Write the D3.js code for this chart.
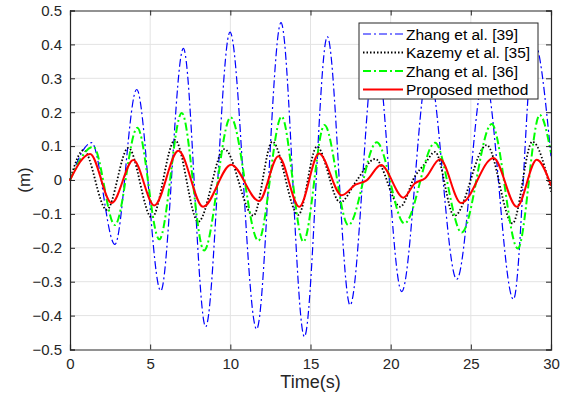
<!DOCTYPE html>
<html>
<head>
<meta charset="utf-8">
<script src="https://cdn.jsdelivr.net/npm/d3@7"></script>
<style>
  body { margin: 0; background: #fff; }
  svg { font-family: "Liberation Sans", Arial, sans-serif; }
</style>
</head>
<body>
<div id="chart"></div>
<script>
// values (time in s, displacement in m)
const zhang39T = [0, 1.35, 2.8, 4.16, 5.66, 7.07, 8.46, 9.98, 11.64, 13.16, 14.62, 16.05, 17.47, 19.05, 20.69, 22.35, 24.12, 25.85, 27.66, 28.95, 30];
const zhang39V = [0, 0.11, -0.19, 0.267, -0.327, 0.388, -0.433, 0.436, -0.44, 0.464, -0.462, 0.423, -0.369, 0.39, -0.329, 0.33, -0.293, 0.31, -0.352, 0.408, 0.07];

const kazemyT = [0, 0.85, 2.29, 3.64, 5.1, 6.55, 8.0, 9.63, 11.44, 12.62, 14.24, 15.4, 16.85, 17.9, 19.03, 20.6, 21.5, 22.15, 22.77, 23.97, 25.99, 27.6, 28.84, 30];
const kazemyV = [0, 0.088, -0.088, 0.095, -0.111, 0.118, -0.123, 0.091, -0.105, 0.113, -0.103, 0.098, -0.066, 0.0, 0.062, -0.079, 0.01, 0.049, 0.083, -0.106, 0.103, -0.128, 0.113, -0.034];

const zhang36T = [0, 1.46, 2.8, 4.2, 5.57, 6.97, 8.36, 10.02, 11.75, 13.2, 14.56, 15.87, 17.36, 19.13, 20.86, 22.77, 24.43, 26.3, 27.93, 29.3, 30];
const zhang36V = [0, 0.098, -0.133, 0.154, -0.175, 0.198, -0.208, 0.185, -0.179, 0.187, -0.182, 0.162, -0.133, 0.111, -0.128, 0.11, -0.155, 0.165, -0.202, 0.192, 0.08];

const proposedT = [0, 1.25, 2.6, 3.95, 5.26, 6.76, 8.3, 10.05, 11.79, 13.0, 14.3, 15.53, 16.95, 17.8, 18.5, 19.4, 20.8, 21.5, 22.15, 23.08, 24.39, 26.41, 27.87, 29.11, 30];
const proposedV = [0, 0.077, -0.068, 0.059, -0.075, 0.086, -0.079, 0.045, -0.062, 0.07, -0.079, 0.078, -0.045, -0.014, -0.001, 0.044, -0.052, -0.01, 0.005, 0.061, -0.068, 0.065, -0.079, 0.06, -0.015];

const xTicks = [0, 5, 10, 15, 20, 25, 30];
const yTicks = [-0.5, -0.4, -0.3, -0.2, -0.1, 0, 0.1, 0.2, 0.3, 0.4, 0.5];

const series = [
  {name: "Zhang et al. [39]", t: zhang39T, v: zhang39V, color: "#0000ff", width: 1.2, dash: "8,3,2,3", cap: "butt"},
  {name: "Kazemy et al. [35]", t: kazemyT, v: kazemyV, color: "#000000", width: 1.8, dash: "1.5,2", cap: "butt"},
  {name: "Zhang et al. [36]", t: zhang36T, v: zhang36V, color: "#00ff00", width: 2, dash: "8,3,2,3", cap: "butt"},
  {name: "Proposed method", t: proposedT, v: proposedV, color: "#ff0000", width: 2, dash: null, cap: "round"}
];

// plot box
const boxL = 70, boxR = 551, boxT = 10.5, boxB = 349.5;

const svg = d3.select("#chart")
  .append("svg")
    .attr("width", 565)
    .attr("height", 397);

const x = d3.scaleLinear().domain([0, 30]).range([boxL, boxR]);
const y = d3.scaleLinear().domain([-0.5, 0.5]).range([boxB, boxT]);

// grid
svg.append("g")
  .selectAll("line")
  .data(xTicks.slice(1, -1))
  .join("line")
    .attr("x1", d => x(d)).attr("x2", d => x(d))
    .attr("y1", boxT).attr("y2", boxB)
    .attr("stroke", "#e3e3e3");
svg.append("g")
  .selectAll("line")
  .data(yTicks.slice(1, -1))
  .join("line")
    .attr("x1", boxL).attr("x2", boxR)
    .attr("y1", d => y(d)).attr("y2", d => y(d))
    .attr("stroke", "#e3e3e3");

// lines
const plot = svg.append("g");
series.forEach(s => {
  const pts = s.t.map((t, i) => [t, s.v[i]]);
  plot.append("path")
    .datum(pts)
    .attr("fill", "none")
    .attr("stroke", s.color)
    .attr("stroke-width", s.width)
    .attr("stroke-dasharray", s.dash)
    .attr("stroke-linecap", s.cap)
    .attr("d", d3.line()
      .x(d => x(d[0]))
      .y(d => y(d[1]))
      .curve(d3.curveMonotoneX));
});

// axes (ticks inward, box all round)
const axisColor = "#262626";
const fmtY = d => d === 0 ? "0" : d3.format(".1f")(d);

const xAxis = svg.append("g")
  .attr("transform", "translate(0," + boxB + ")")
  .call(d3.axisBottom(x).tickValues(xTicks).tickSize(-5).tickPadding(9).tickFormat(d3.format("d")));
const xTop = svg.append("g")
  .attr("transform", "translate(0," + boxT + ")")
  .call(d3.axisTop(x).tickValues(xTicks).tickSize(-5).tickFormat(""));
const yAxis = svg.append("g")
  .attr("transform", "translate(" + boxL + ",0)")
  .call(d3.axisLeft(y).tickValues(yTicks).tickSize(-5).tickPadding(8).tickFormat(fmtY));
const yRight = svg.append("g")
  .attr("transform", "translate(" + boxR + ",0)")
  .call(d3.axisRight(y).tickValues(yTicks).tickSize(-5).tickFormat(""));

[xAxis, xTop, yAxis, yRight].forEach(g => {
  g.select(".domain").attr("stroke", axisColor).attr("stroke-width", 1.2);
  g.selectAll(".tick line").attr("stroke", axisColor);
  g.selectAll("text")
    .attr("fill", axisColor)
    .style("font-size", "15px")
    .style("font-family", "'Liberation Sans', Arial, sans-serif");
});

// axis titles
svg.append("text")
  .attr("x", (boxL + boxR) / 2)
  .attr("y", 388)
  .attr("text-anchor", "middle")
  .attr("fill", axisColor)
  .style("font-size", "18px")
  .text("Time(s)");
svg.append("text")
  .attr("transform", "translate(30," + y(0) + ") rotate(-90)")
  .attr("text-anchor", "middle")
  .attr("fill", axisColor)
  .style("font-size", "17px")
  .text("(m)");

// legend
const legend = svg.append("g").attr("transform", "translate(359,23)");
legend.append("rect")
  .attr("width", 179).attr("height", 76)
  .attr("fill", "#fff")
  .attr("stroke", axisColor)
  .attr("stroke-width", 1);
series.forEach((s, i) => {
  const ly = 11 + i * 18.5;
  legend.append("line")
    .attr("x1", 4).attr("x2", 44)
    .attr("y1", ly).attr("y2", ly)
    .attr("stroke", s.color)
    .attr("stroke-width", s.width)
    .attr("stroke-dasharray", s.dash);
  legend.append("text")
    .attr("x", 47).attr("y", ly + 5.5)
    .attr("fill", "#000")
    .style("font-size", "15.5px")
    .text(s.name);
});
</script>
</body>
</html>
